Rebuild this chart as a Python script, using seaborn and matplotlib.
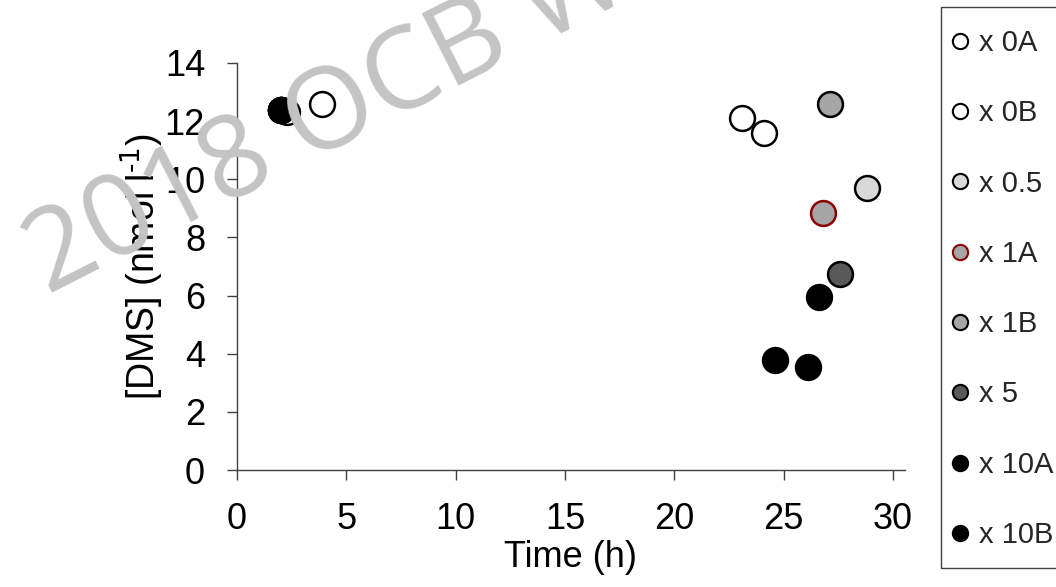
import pandas as pd
import matplotlib
matplotlib.use("Agg")
import matplotlib.pyplot as plt
from matplotlib.lines import Line2D
from matplotlib.patches import Rectangle
import seaborn as sns

# data
treatments = ["x 0A", "x 0B", "x 0.5", "x 1A", "x 1B", "x 5", "x 10A", "x 10B"]
times = {
    "x 0A":  [2.3, 23.1],
    "x 0B":  [3.9, 24.1],
    "x 0.5": [2.0, 28.8],
    "x 1A":  [2.0, 26.8],
    "x 1B":  [2.0, 27.1],
    "x 5":   [2.0, 27.6],
    "x 10A": [2.0, 26.6],
    "x 10B": [2.0, 24.6, 26.1],
}
dms = {
    "x 0A":  [12.3, 12.1],
    "x 0B":  [12.6, 11.6],
    "x 0.5": [12.4, 9.7],
    "x 1A":  [12.4, 8.85],
    "x 1B":  [12.4, 12.6],
    "x 5":   [12.4, 6.75],
    "x 10A": [12.4, 5.95],
    "x 10B": [12.4, 3.8, 3.55],
}
fills = ["white", "white", "#d9d9d9", "#a6a6a6", "#a6a6a6", "#595959", "black", "black"]
edges = ["black", "black", "black", "#8b0000", "black", "black", "black", "black"]

rows = []
for t in treatments:
    for x, y in zip(times[t], dms[t]):
        rows.append({"treatment": t, "time": x, "dms": y})
df = pd.DataFrame(rows)

sns.set_style("ticks")
plt.rcParams["font.family"] = ["Liberation Sans", "DejaVu Sans"]
plt.rcParams["mathtext.default"] = "regular"

W, H = 1056, 587
fig = plt.figure(figsize=(W / 100, H / 100), dpi=100)
ax = fig.add_axes([237 / W, 1 - 470 / H, (905 - 237) / W, (470 - 63) / H])

# watermark
fig.text(48 / W, 1 - 295 / H, "2018 OCB W", fontsize=82, family="Open Sans",
         color="#c4c4c4", rotation=27, rotation_mode="anchor",
         ha="left", va="baseline", zorder=0)

for t, fc, ec in zip(treatments, fills, edges):
    sns.scatterplot(data=df[df["treatment"] == t], x="time", y="dms", ax=ax,
                    s=320, color=fc, edgecolor=ec, linewidth=1.8, zorder=3)

ax.set_xlim(0, 30.55)
ax.set_ylim(0, 14)
ax.set_xticks(range(0, 31, 5))
ax.set_yticks(range(0, 15, 2))
ax.tick_params(labelsize=26, labelcolor="black", length=7, width=1,
               color="#404040", pad=16)
ax.set_xlabel("Time (h)", fontsize=26, color="black", labelpad=2)
ax.set_ylabel(r"[DMS] (nmol l$^{\text{-1}}$)", fontsize=27, color="black",
              labelpad=-1)
for side in ["top", "right"]:
    ax.spines[side].set_visible(False)
for side in ["left", "bottom"]:
    ax.spines[side].set_color("#404040")
    ax.spines[side].set_linewidth(1)
ax.patch.set_alpha(0)

# legend box drawn separately, the legend itself without frame
fig.patches.append(Rectangle((941 / W, 1 - 568 / H), 130 / W, 561 / H,
                             transform=fig.transFigure, fill=False,
                             edgecolor="#404040", linewidth=1))
handles = [Line2D([], [], ls="none", marker="o", markersize=11,
                  markerfacecolor=fc, markeredgecolor=ec, markeredgewidth=1.5)
           for fc, ec in zip(fills, edges)]
fig.legend(handles, treatments, loc="upper left",
           bbox_to_anchor=(950 / W, 1 - 29 / H), fontsize=21,
           frameon=False, labelspacing=1.45,
           handlelength=0.7, handletextpad=0.3, borderpad=0,
           borderaxespad=0)

fig.savefig("out.png", dpi=100)
